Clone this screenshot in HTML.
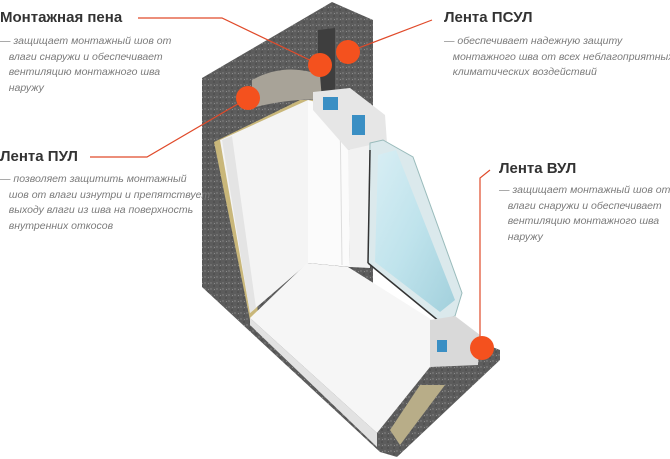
<!DOCTYPE html>
<html><head><meta charset="utf-8"><style>
body{margin:0;width:670px;height:459px;background:#fff;overflow:hidden;position:relative;font-family:"Liberation Sans",sans-serif}
.t{position:absolute;color:#333;font-size:15px;font-weight:bold;white-space:nowrap}
.d{position:absolute;color:#7a7a7a;font-size:10.5px;font-style:italic;line-height:15.5px;white-space:nowrap}
svg{position:absolute;left:0;top:0}
</style></head><body>
<svg width="670" height="459" viewBox="0 0 670 459">
<defs>
<pattern id="c" width="6" height="6" patternUnits="userSpaceOnUse"><rect width="6" height="6" fill="#5c5c5c"/><circle cx="1" cy="1" r=".7" fill="#8a8a8a"/><circle cx="4" cy="4" r=".6" fill="#3a3a3a"/><circle cx="4.5" cy="1.5" r=".5" fill="#9a9a9a"/></pattern>
<linearGradient id="g" x1="0" y1="0" x2="1" y2="1"><stop offset="0" stop-color="#d8eef4"/><stop offset=".5" stop-color="#bfe3ec"/><stop offset="1" stop-color="#a2d0dc"/></linearGradient>
</defs>
<polygon points="202,78 332,2 373,20 373,300 500,350 500,360 397,457 380,452 202,287" fill="url(#c)"/>
<polygon points="318,30 335,28 335,100 318,95" fill="#3e3e3e"/>
<path d="M252,80 Q285,62 320,75 L322,100 Q290,98 252,108 Z" fill="#a8a398"/>
<polygon points="214,142 300,100 318,100 250,140 258,318 250,320" fill="#c9b77a"/>
<polygon points="220,140 308,100 308,263 250,313" fill="#f4f4f4"/>
<polygon points="222,140 232,136 256,308 250,313" fill="#e4e4e4"/>
<polygon points="308,100 348,110 350,267 308,263" fill="#fbfbfb"/>
<line x1="340" y1="110" x2="342" y2="265" stroke="#ddd"/>
<polygon points="313,92 350,88 385,115 387,143 370,148 348,150 313,110" fill="#e6e6e6"/>
<rect x="323" y="97" width="15" height="13" fill="#3a8fc4"/>
<rect x="352" y="115" width="13" height="20" fill="#3a8fc4"/>
<polygon points="348,150 370,145 370,268 350,267" fill="#f2f2f2"/>
<polygon points="370,143 383,140 413,157 462,293 455,316 440,322 368,263" fill="#dbe9ec" stroke="#9bb" stroke-width="1"/>
<polygon points="378,155 396,150 455,300 440,312 375,262" fill="url(#g)"/>
<line x1="370" y1="150" x2="368" y2="263" stroke="#333" stroke-width="1.5"/>
<line x1="368" y1="263" x2="440" y2="322" stroke="#333" stroke-width="1.5"/>
<polygon points="250,318 307,263 348,267 440,325 430,367 377,433" fill="#f6f6f6"/>
<polygon points="250,318 377,433 377,447 250,325" fill="#e2e2e2"/>
<polygon points="430,320 455,316 480,335 478,365 430,367" fill="#d9d9d9"/>
<rect x="437" y="340" width="10" height="12" fill="#3a8fc4"/>
<polygon points="390,430 420,385 445,385 400,445" fill="#b8ad88"/>
<g stroke="#e04a2a" stroke-width="1.2" fill="none">
<polyline points="138,18 222,18 320,65"/>
<polyline points="432,20 348,52"/>
<polyline points="90,157 147,157 248,98"/>
<polyline points="490,170 480,178 480,348"/>
</g>
<g fill="#f4511e">
<circle cx="320" cy="65" r="12"/>
<circle cx="348" cy="52" r="12"/>
<circle cx="248" cy="98" r="12"/>
<circle cx="482" cy="348" r="12"/>
</g>
</svg>
<div class="t" style="left:0;top:9px">Монтажная пена</div>
<div class="d" style="left:0;top:34px">— защищает монтажный шов от<br>&nbsp;&nbsp;&nbsp;влаги снаружи и обеспечивает<br>&nbsp;&nbsp;&nbsp;вентиляцию монтажного шва<br>&nbsp;&nbsp;&nbsp;наружу</div>
<div class="t" style="left:444px;top:9px">Лента ПСУЛ</div>
<div class="d" style="left:444px;top:34px">— обеспечивает надежную защиту<br>&nbsp;&nbsp;&nbsp;монтажного шва от всех неблагоприятных<br>&nbsp;&nbsp;&nbsp;климатических воздействий</div>
<div class="t" style="left:0;top:148px">Лента ПУЛ</div>
<div class="d" style="left:0;top:172px">— позволяет защитить монтажный<br>&nbsp;&nbsp;&nbsp;шов от влаги изнутри и препятствует<br>&nbsp;&nbsp;&nbsp;выходу влаги из шва на поверхность<br>&nbsp;&nbsp;&nbsp;внутренних откосов</div>
<div class="t" style="left:499px;top:160px">Лента ВУЛ</div>
<div class="d" style="left:499px;top:183px">— защищает монтажный шов от<br>&nbsp;&nbsp;&nbsp;влаги снаружи и обеспечивает<br>&nbsp;&nbsp;&nbsp;вентиляцию монтажного шва<br>&nbsp;&nbsp;&nbsp;наружу</div>
</body></html>
